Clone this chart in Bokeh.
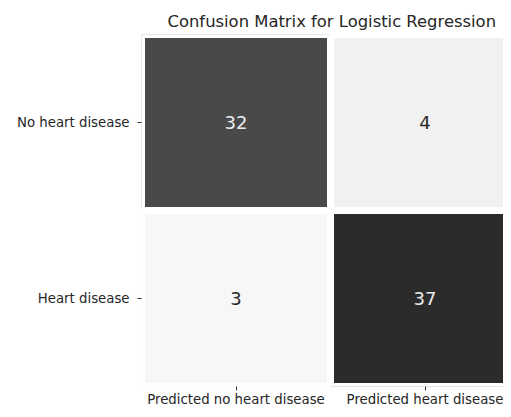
from bokeh.plotting import figure
from bokeh.models import Range1d, FixedTicker, ColumnDataSource, LinearColorMapper, Title
from bokeh.core.properties import value
from bokeh.embed import file_html
from bokeh.resources import INLINE

# ---- data ----
title_text = "Confusion Matrix for Logistic Regression"
predicted_labels = ["Predicted no heart disease", "Predicted heart disease"]
actual_labels = ["No heart disease", "Heart disease"]
counts = [[32, 4],
          [3, 37]]

FONT = "DejaVu Sans"

xs, ys, vals = [], [], []
for r, row in enumerate(counts):
    for c, v in enumerate(row):
        xs.append(c + 0.5)
        ys.append(r + 0.5)
        vals.append(v)

flat = [v for row in counts for v in row]
vmin, vmax = min(flat), max(flat)
text_colors = ["#ebebeb" if (v - vmin) / (vmax - vmin) > 0.5 else "#2a2a2a" for v in vals]
src = ColumnDataSource(dict(x=xs, y=ys, v=vals, label=[str(v) for v in vals], tc=text_colors))

# grey palette from light to dark
palette = []
for i in range(256):
    g = round(247 - (247 - 43) * i / 255)
    palette.append("#%02x%02x%02x" % (g, g, g))
mapper = LinearColorMapper(palette=palette, low=vmin, high=vmax)

LEFT, TOP, BOTTOM, W, H = 141, 34, 21, 503, 409
p = figure(width=W, height=H, output_backend="svg", toolbar_location=None,
           x_range=Range1d(0, (W - LEFT) / 189), y_range=Range1d(2, 0),
           min_border_left=LEFT, min_border_right=0, min_border_top=TOP, min_border_bottom=BOTTOM)
p.title = Title(text=title_text, align="left", text_font_size="16.4px",
                text_font=FONT, text_font_style="normal", text_color="#262626",
                standoff=7, offset=26)

p.rect(x="x", y="y", width=1, height=1, source=src,
       fill_color={"field": "v", "transform": mapper},
       line_color="white", line_width=7)
p.text(x="x", y="y", text="label", source=src, text_color="tc",
       text_align="center", text_baseline="middle",
       text_font=value(FONT), text_font_size="18px")

p.xaxis.ticker = FixedTicker(ticks=[0.5, 1.5])
p.xaxis.major_label_overrides = {0.5: predicted_labels[0], 1.5: predicted_labels[1]}
p.yaxis.ticker = FixedTicker(ticks=[0.5, 1.5])
p.yaxis.major_label_overrides = {0.5: actual_labels[0], 1.5: actual_labels[1]}

for ax in (p.xaxis[0], p.yaxis[0]):
    ax.axis_line_color = None
    ax.major_tick_in = 0
    ax.minor_tick_line_color = None
    ax.major_tick_line_color = "#333333"
    ax.major_label_text_font = FONT
    ax.major_label_text_font_size = "13.3px"
    ax.major_label_text_color = "#262626"
p.xaxis.major_tick_out = 4
p.xaxis.major_label_standoff = 1
p.yaxis.major_tick_out = 4
p.yaxis.major_label_standoff = 8
p.yaxis.major_label_orientation = "horizontal"

p.xgrid.grid_line_color = None
p.ygrid.grid_line_color = None
p.outline_line_color = None
p.background_fill_color = "white"
p.border_fill_color = "white"

open("out.html", "w").write(file_html(p, INLINE))
